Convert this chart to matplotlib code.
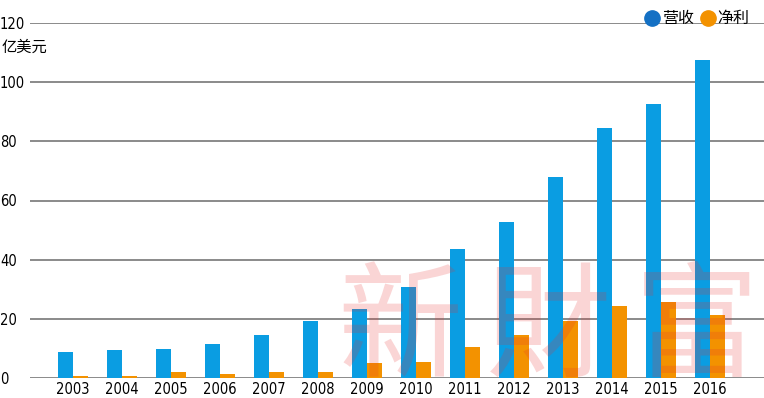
import numpy as np
import matplotlib
matplotlib.use('Agg')
import matplotlib.pyplot as plt
from matplotlib.lines import Line2D

plt.rcParams['font.family'] = ['DejaVu Sans', 'Noto Sans CJK SC']
plt.rcParams['font.stretch'] = 'condensed'

# data
years = ['2003', '2004', '2005', '2006', '2007', '2008', '2009',
         '2010', '2011', '2012', '2013', '2014', '2015', '2016']
revenue = [8.8, 9.5, 9.8, 11.5, 14.5, 19.3, 23.3,
           30.8, 43.6, 52.7, 68.0, 84.5, 92.6, 107.5]
net_profit = [0.6, 0.6, 2.0, 1.2, 1.9, 1.9, 5.0,
              5.4, 10.5, 14.5, 19.3, 24.3, 25.7, 21.3]
yticks = [0, 20, 40, 60, 80, 100, 120]

BLUE = '#0A9DE2'
ORANGE = '#F39200'
CJK = ['Noto Sans CJK SC', 'DejaVu Sans']

fig = plt.figure(figsize=(7.64, 3.98), dpi=100)
ax = fig.add_axes([30 / 764, 1 - 378 / 398, 734 / 764, 355 / 398])

x = np.arange(len(years))
w = 0.3
ax.bar(x - w / 2, revenue, w, color=BLUE, zorder=2)
ax.bar(x + w / 2, net_profit, w, color=ORANGE, zorder=2)

ax.set_xlim(-0.88, 14.1)
ax.set_ylim(0, 120)
ax.set_yticks(yticks)
ax.set_xticks(x)
ax.set_xticklabels(years, fontsize=10.5)
ax.tick_params(axis='x', length=0, pad=3)
ax.tick_params(axis='y', length=0, pad=21.6, labelsize=10.5)
for lab in ax.get_yticklabels():
    lab.set_horizontalalignment('left')
ax.grid(axis='y', color='#8a8a8a', linewidth=1.4, zorder=1)
for s in ax.spines.values():
    s.set_visible(False)

fig.text(2 / 764, 1 - 47 / 398, '亿美元', family=CJK, fontsize=11, va='center', ha='left')

# watermark, one character at a time so it spreads like the original
for cx, ch in zip([400, 548, 696], '新財富'):
    fig.text(cx / 764, 2 / 398, ch, family=['Noto Sans CJK TC', 'DejaVu Sans'],
             fontsize=90, color='#E83030', alpha=0.2, ha='center', va='bottom', zorder=5)

handles = [Line2D([], [], marker='o', linestyle='none', color='#1470C4', markersize=11),
           Line2D([], [], marker='o', linestyle='none', color=ORANGE, markersize=11)]
leg = fig.legend(handles, ['营收', '净利'], loc='upper right', bbox_to_anchor=(1.0, 1.01),
                 ncol=2, frameon=False, handletextpad=0.0, columnspacing=0.3,
                 prop={'family': CJK, 'size': 11.5}, handlelength=1.2)

fig.savefig('out.png', dpi=100)
